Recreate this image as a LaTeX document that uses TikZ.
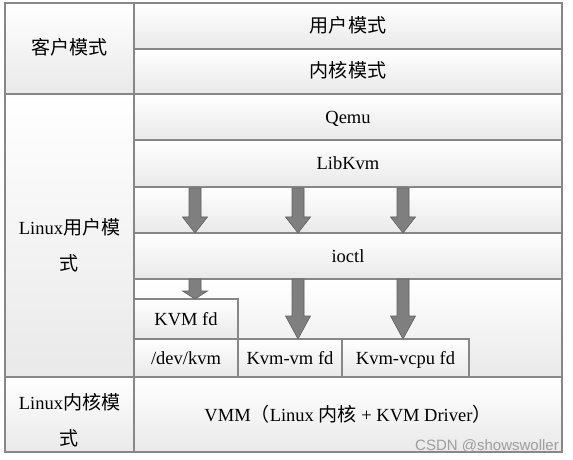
\documentclass[tikz,border=0pt]{standalone}
\usepackage{fontspec}
\setmainfont{Liberation Serif}
\newfontfamily\cjk{Noto Sans CJK SC}[Scale=1.03]
\newfontfamily\wmfont{Liberation Sans}
\usetikzlibrary{positioning,calc}
\definecolor{linecolor}{RGB}{135, 135, 135}
\definecolor{cellbottom}{RGB}{233, 233, 233}
\definecolor{arrowcolor}{RGB}{127, 127, 127}
\definecolor{arrowedge}{RGB}{98, 98, 98}

% block arrow: from, tip, head length
\newcommand{\fatarrow}[3]{%
  \fill[black!18, xshift=2bp, yshift=-1.5bp]
    ($(#1)+(-6,0)$) -- ($(#2)+(-6,-#3)$) -- ($(#2)+(-12.5,-#3)$) -- (#2)
    -- ($(#2)+(12.5,-#3)$) -- ($(#2)+(6,-#3)$) -- ($(#1)+(6,0)$) -- cycle;
  \filldraw[fill=arrowcolor, draw=arrowedge, line width=0.6bp]
    ($(#1)+(-6,0)$) -- ($(#2)+(-6,-#3)$) -- ($(#2)+(-12.5,-#3)$) -- (#2)
    -- ($(#2)+(12.5,-#3)$) -- ($(#2)+(6,-#3)$) -- ($(#1)+(6,0)$) -- cycle;}

\begin{document}
\begin{tikzpicture}[
        x=1bp, y=-1bp,
        font=\fontsize{18.5bp}{36bp}\selectfont,
        cell/.style={draw=linecolor, line width=1.2bp, top color=white, bottom color=cellbottom,
            anchor=north west, inner sep=0pt, outer sep=0pt, align=center,
            text height=14bp, text depth=1bp},
        celltext/.style={align=center, inner sep=0pt}
    ]
        \useasboundingbox (0,0) rectangle (573,460);

        % Guest mode
        \node[cell, minimum width=129bp, minimum height=91bp] (guest_mode) at (5,3) {{\cjk 客户模式}};
        \node[cell, minimum width=428bp, minimum height=46bp] (guest_user) at (134,3) {{\cjk 用户模式}};
        \node[cell, minimum width=428bp, minimum height=45bp] (guest_kernel) at (134,49) {{\cjk 内核模式}};

        % Linux user mode
        \node[cell, minimum width=129bp, minimum height=283bp] (host_user) at (5,94) {};
        \node[celltext] (host_user_text) at ([yshift=-10bp]host_user.center) {Linux{\cjk 用户模}\\{\cjk 式}};
        \node[cell, minimum width=428bp, minimum height=46bp] (qemu) at (134,94) {Qemu};
        \node[cell, minimum width=428bp, minimum height=47bp] (lib_kvm) at (134,140) {LibKvm};
        \node[cell, minimum width=428bp, minimum height=46bp] (call_row) at (134,187) {};
        \node[cell, minimum width=428bp, minimum height=46bp] (ioctl) at (134,233) {ioctl};
        \node[cell, minimum width=428bp, minimum height=98bp] (fd_row) at (134,279) {};

        % File descriptors
        \node[cell, minimum width=104bp, minimum height=40bp] (kvm_fd) at (134,299) {KVM fd};
        \node[cell, minimum width=104bp, minimum height=38bp] (dev_kvm) at (134,339) {/dev/kvm};
        \node[cell, minimum width=104bp, minimum height=38bp] (vm_fd) at (238,339) {Kvm-vm fd};
        \node[cell, minimum width=127bp, minimum height=38bp] (vcpu_fd) at (342,339) {Kvm-vcpu fd};

        % Linux kernel mode
        \node[cell, minimum width=129bp, minimum height=75bp] (host_kernel) at (5,377) {};
        \node[celltext] (host_kernel_text) at ([yshift=-6bp]host_kernel.center) {Linux{\cjk 内核模}\\{\cjk 式}};
        \node[cell, minimum width=428bp, minimum height=75bp] (vmm) at (134,377)
            {VMM{\cjk （}Linux {\cjk 内核} + KVM Driver{\cjk ）}};

        % Outer frame
        \draw[linecolor, line width=1.6bp] (guest_mode.north west) rectangle (vmm.south east);

        % Arrows LibKvm -> ioctl
        \coordinate (top_dev) at (195,188);
        \coordinate (top_vm) at (298,188);
        \coordinate (top_vcpu) at (403,188);
        \fatarrow{top_dev}{top_dev |- ioctl.north}{16}
        \fatarrow{top_vm}{top_vm |- ioctl.north}{16}
        \fatarrow{top_vcpu}{top_vcpu |- ioctl.north}{16}

        % Arrows ioctl -> fds
        \fatarrow{top_dev |- ioctl.south}{top_dev |- kvm_fd.north}{8}
        \fatarrow{top_vm |- ioctl.south}{top_vm |- vm_fd.north}{23}
        \fatarrow{top_vcpu |- ioctl.south}{top_vcpu |- vcpu_fd.north}{23}

        % Watermark
        \node[font=\wmfont\fontsize{15bp}{15bp}\selectfont, text=black!38, anchor=base east, inner sep=0pt]
            (mark) at (559,450) {CSDN @showswoller};

    \end{tikzpicture}
\end{document}
